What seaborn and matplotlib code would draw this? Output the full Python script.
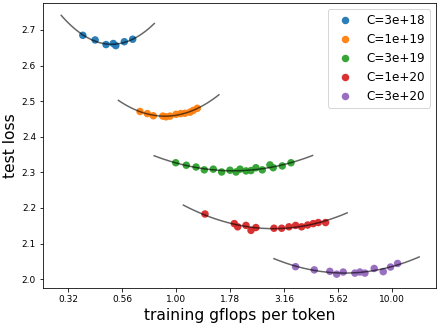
import numpy as np
import pandas as pd
import matplotlib
matplotlib.use("Agg")
import matplotlib.pyplot as plt
import seaborn as sns

# Valeurs
labels = ["C=3e+18", "C=1e+19", "C=3e+19", "C=1e+20", "C=3e+20"]

gflops_3e18 = [0.370, 0.422, 0.474, 0.512, 0.526, 0.576, 0.630]
loss_3e18 = [2.685, 2.672, 2.659, 2.662, 2.656, 2.667, 2.674]

gflops_1e19 = [0.681, 0.736, 0.785, 0.868, 0.899, 0.938, 1.000, 1.051, 1.100, 1.161, 1.202, 1.255]
loss_1e19 = [2.471, 2.465, 2.459, 2.458, 2.456, 2.458, 2.463, 2.465, 2.466, 2.469, 2.474, 2.480]

gflops_3e19 = [0.997, 1.116, 1.238, 1.352, 1.488, 1.627, 1.778, 1.896, 1.979,
               2.109, 2.225, 2.345, 2.509, 2.723, 2.820, 3.105, 3.410]
loss_3e19 = [2.327, 2.320, 2.315, 2.307, 2.309, 2.301, 2.306, 2.301, 2.309,
             2.304, 2.305, 2.313, 2.307, 2.321, 2.313, 2.318, 2.327]

gflops_1e20 = [1.362, 1.862, 1.930, 2.109, 2.225, 2.345, 2.843, 3.086,
               3.336, 3.582, 3.818, 4.072, 4.321, 4.560, 4.930]
loss_1e20 = [2.183, 2.156, 2.147, 2.151, 2.137, 2.145, 2.143, 2.143,
             2.147, 2.151, 2.147, 2.152, 2.156, 2.159, 2.159]

gflops_3e20 = [3.58, 4.37, 5.16, 5.55, 5.95, 6.74, 7.11, 7.50, 8.28, 9.12, 9.86, 10.63]
loss_3e20 = [2.035, 2.026, 2.022, 2.014, 2.020, 2.017, 2.020, 2.017, 2.030, 2.021, 2.034, 2.044]

series = [
    (gflops_3e18, loss_3e18),
    (gflops_1e19, loss_1e19),
    (gflops_3e19, loss_3e19),
    (gflops_1e20, loss_1e20),
    (gflops_3e20, loss_3e20),
]

rows = []
for label, (xs, ys) in zip(labels, series):
    for x, y in zip(xs, ys):
        rows.append({"gflops": x, "loss": y, "budget": label})
df = pd.DataFrame(rows)

fig = plt.figure(figsize=(439 / 72, 324 / 72), dpi=72)
ax = fig.add_axes([0.098, 0.111, 0.895, 0.880])

sns.scatterplot(data=df, x="gflops", y="loss", hue="budget", hue_order=labels,
                palette="tab10", s=56, linewidth=0, alpha=0.95, ax=ax, zorder=2)

# Ajustement parabolique en log(x) pour chaque budget
for xs, ys in series:
    lx = np.log10(xs)
    coef = np.polyfit(lx, ys, 2)
    grid = np.linspace(lx.min() - 0.1, lx.max() + 0.1, 100)
    ax.plot(10 ** grid, np.polyval(coef, grid), color="black", alpha=0.6,
            linewidth=1.5, zorder=3)

ax.set_xscale("log")
ticks = 10 ** np.arange(-0.5, 1.01, 0.25)
ax.set_xticks(ticks)
ax.set_xticklabels([f"{t:.2f}" for t in ticks])
ax.minorticks_off()
ax.set_xlim(0.242, 16.0)
ax.set_ylim(1.975, 2.776)
ax.tick_params(labelsize=9)

ax.set_xlabel("training gflops per token", fontsize=15.5)
ax.set_ylabel("test loss", fontsize=15.5)

handles, lbls = ax.get_legend_handles_labels()
ax.legend(handles, lbls, loc="upper right", fontsize=12)

fig.savefig("out.png", dpi=72)
